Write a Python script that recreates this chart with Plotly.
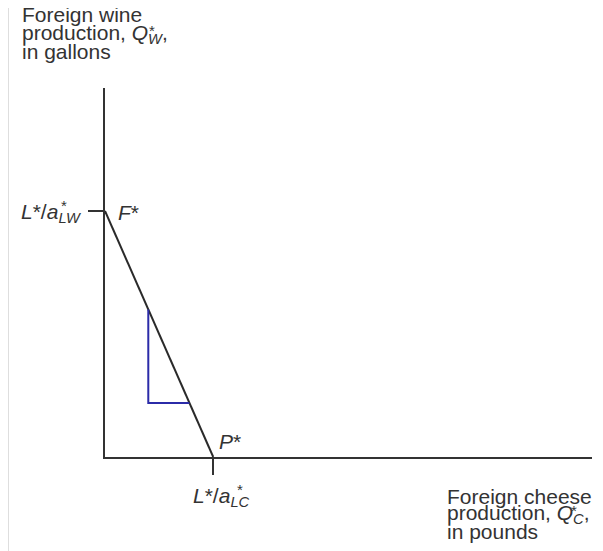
import plotly.graph_objects as go

# Production possibility frontier (data units: L*/a*_LC = 1 on x, L*/a*_LW = 1 on y)
frontier_x = [0, 1]
frontier_y = [1, 0]

# slope triangle drawn under the frontier
triangle_x = [0.4, 0.4, 0.78]
triangle_y = [0.6, 0.22, 0.22]

x_tick = [1]
y_tick = [1]

X_MAX = 4.5
Y_MAX = 1.5

INK = "#333333"
BLUE = "#2b2ba8"
FONT = "Liberation Sans, Arial, sans-serif"

# the page body has an 8px margin, so figure pixels = page pixels - 8
OFF = 8
# plot area edges in page pixels
LEFT, TOP, RIGHT, BOTTOM = 105, 88, 592, 457
ML, MT = LEFT - OFF, TOP - OFF
MR = 603 - (RIGHT - OFF)
MB = 551 - (BOTTOM - OFF)
PW = RIGHT - LEFT
PH = BOTTOM - TOP


def paper(xp, yp):
    """Page pixel position -> paper coordinates."""
    return (xp - LEFT) / PW, (BOTTOM - yp) / PH


def label(text, xp, yp, anchor="left", size=21):
    x, y = paper(xp, yp)
    return dict(text=text, x=x, y=y, xref="paper", yref="paper",
                xanchor=anchor, yanchor="middle", showarrow=False,
                font=dict(size=size, color=INK, family=FONT))


fig = go.Figure()
fig.add_trace(go.Scatter(
    x=frontier_x, y=frontier_y, mode="lines",
    line=dict(color="#2a2a2a", width=2), cliponaxis=False,
    hoverinfo="skip"
))
fig.add_trace(go.Scatter(
    x=triangle_x, y=triangle_y, mode="lines",
    line=dict(color=BLUE, width=2), hoverinfo="skip"
))

annotations = [
    # y axis title
    label("Foreign wine", 20, 15),
    label("production, <i>Q</i><sub><i>W</i></sub>,", 20, 34),
    label("in gallons", 20, 52),
    label("*", 147, 31, size=15),
    # x axis title
    label("Foreign cheese", 445, 496),
    label("production, <i>Q</i><sub><i>C</i></sub>,", 445, 514),
    label("in pounds", 445, 531),
    label("*", 569, 510, size=15),
    # intercepts
    label("<i>L</i>*/<i>a</i><sub><i>LW</i></sub>", 84, 213, anchor="right"),
    label("*", 59, 205, size=15),
    label("<i>F</i>*", 116, 212),
    label("<i>P</i>*", 217, 441),
    label("<i>L</i>*/<i>a</i><sub><i>LC</i></sub>", 191, 497),
    label("*", 235, 489, size=15),
]

x0, _ = paper(8, 0)
shapes = [dict(type="line", xref="paper", yref="paper", x0=x0, x1=x0, y0=-1, y1=2,
               line=dict(color="#dedede", width=2))]

fig.update_layout(
    width=603, height=551,
    margin=dict(l=ML, r=MR, t=MT, b=MB),
    paper_bgcolor="white", plot_bgcolor="white",
    showlegend=False,
    annotations=annotations,
    shapes=shapes,
    xaxis=dict(range=[0, X_MAX], showgrid=False, zeroline=False,
               showline=True, linecolor=INK, linewidth=2,
               tickvals=x_tick, ticks="outside", ticklen=16, tickwidth=2,
               tickcolor=INK, showticklabels=False, fixedrange=True),
    yaxis=dict(range=[0, Y_MAX], showgrid=False, zeroline=False,
               showline=True, linecolor=INK, linewidth=2,
               tickvals=y_tick, ticks="outside", ticklen=15, tickwidth=2,
               tickcolor=INK, showticklabels=False, fixedrange=True),
)

fig.write_html("out.html", config={"displayModeBar": False})
